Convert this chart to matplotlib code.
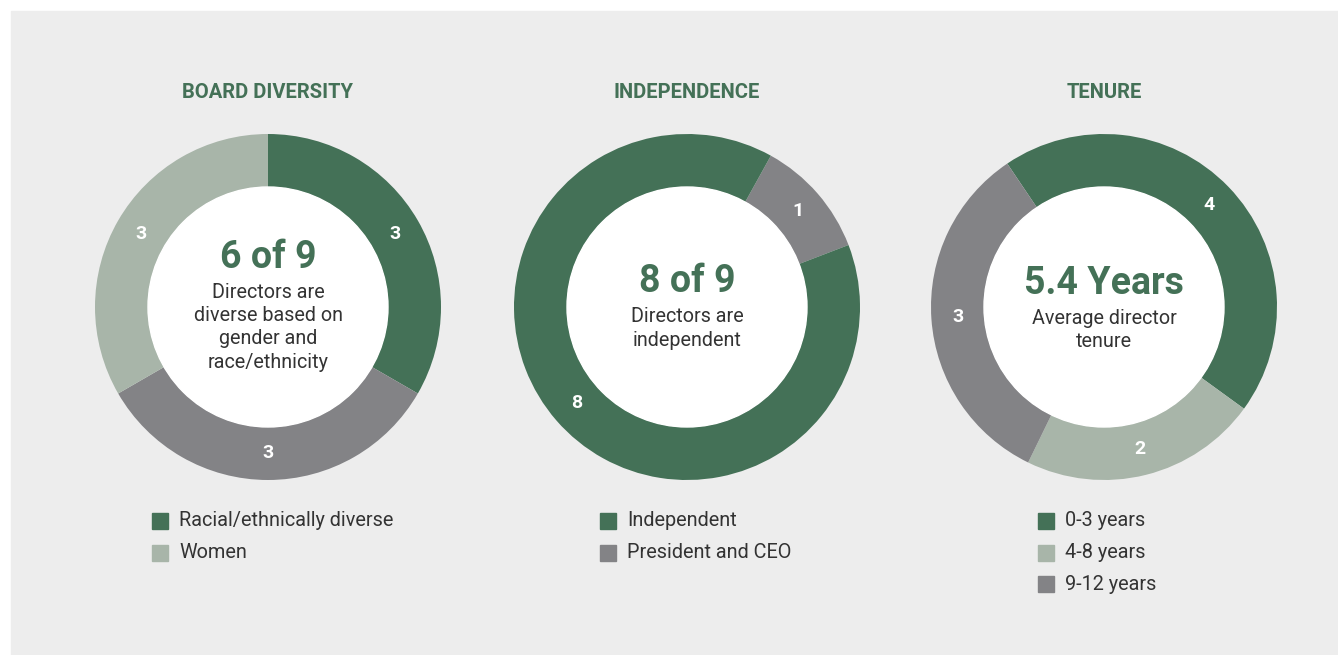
import matplotlib
matplotlib.use("Agg")
import matplotlib.pyplot as plt
from matplotlib.patches import Circle, Rectangle

plt.rcParams["font.family"] = ["Roboto", "DejaVu Sans"]

GREEN = "#447157"
LIGHT = "#a8b5a9"
GRAY = "#838386"
BG = "#ededed"
TEXT = "#333333"

# ------------------------------------------------------------
# Data
# ------------------------------------------------------------
titles = ["BOARD DIVERSITY", "INDEPENDENCE", "TENURE"]

diversity_values = [3, 3, 3]
diversity_colors = [GREEN, GRAY, LIGHT]
diversity_legend = ["Racial/ethnically diverse", "Women"]
diversity_legend_colors = [GREEN, LIGHT]

independence_values = [1, 8]
independence_colors = [GRAY, GREEN]
independence_legend = ["Independent", "President and CEO"]
independence_legend_colors = [GREEN, GRAY]

tenure_values = [4, 2, 3]
tenure_colors = [GREEN, LIGHT, GRAY]
tenure_legend = ["0-3 years", "4-8 years", "9-12 years"]
tenure_legend_colors = [GREEN, LIGHT, GRAY]

headlines = ["6 of 9", "8 of 9", "5.4 Years"]
captions = [
    ["Directors are", "diverse based on", "gender and", "race/ethnicity"],
    ["Directors are", "independent"],
    ["Average director", "tenure"],
]

# ------------------------------------------------------------
# Layout (pixel coordinates, y measured from top)
# ------------------------------------------------------------
W, H = 1338, 655
CENTERS_X = [268, 687, 1104]
CENTER_Y = 307
R_OUT, R_IN = 173, 120
START_ANGLES = [90, 61, 124]
HEAD_Y = [257, 282, 283]
LEGEND_X = [152, 600, 1038]


def Y(y):
    return H - y


fig = plt.figure(figsize=(W / 100, H / 100), dpi=100, facecolor="white")
ax = fig.add_axes([0, 0, 1, 1])
ax.add_patch(Rectangle((11, 0), W - 11, H - 11, color=BG, zorder=0))

donuts = [
    (diversity_values, diversity_colors, diversity_legend, diversity_legend_colors),
    (independence_values, independence_colors, independence_legend, independence_legend_colors),
    (tenure_values, tenure_colors, tenure_legend, tenure_legend_colors),
]

for i, (vals, cols, leg, leg_cols) in enumerate(donuts):
    cx, cy = CENTERS_X[i], Y(CENTER_Y)
    ax.pie(vals, colors=cols, center=(cx, cy), radius=R_OUT,
           startangle=START_ANGLES[i], counterclock=False, frame=True,
           labels=[str(v) for v in vals], labeldistance=(R_OUT + R_IN) / 2 / R_OUT,
           textprops=dict(color="white", fontsize=14, fontweight="bold",
                          ha="center", va="center"),
           wedgeprops=dict(width=R_OUT - R_IN, linewidth=0))
    ax.add_patch(Circle((cx, cy), R_IN, color="white", zorder=3))

    ax.text(cx, Y(93), titles[i], color=GREEN, fontsize=14.5, fontweight="bold",
            ha="center", va="center")
    ax.text(cx, Y(HEAD_Y[i]), headlines[i], color=GREEN, fontsize=27,
            fontweight="bold", ha="center", va="center", zorder=4)
    for j, line in enumerate(captions[i]):
        ax.text(cx, Y(HEAD_Y[i] + 35 + j * 23.5), line, color=TEXT, fontsize=14.2,
                ha="center", va="center", zorder=4)

    for j, (name, c) in enumerate(zip(leg, leg_cols)):
        ly = Y(521 + j * 31.5)
        ax.add_patch(Rectangle((LEGEND_X[i], ly - 8), 16, 16, color=c))
        ax.text(LEGEND_X[i] + 27, ly, name, color=TEXT, fontsize=14.3,
                ha="left", va="center")

ax.set_xlim(0, W)
ax.set_ylim(0, H)
ax.set_aspect("equal")
ax.axis("off")

fig.savefig("out.png", dpi=100, facecolor="white")
